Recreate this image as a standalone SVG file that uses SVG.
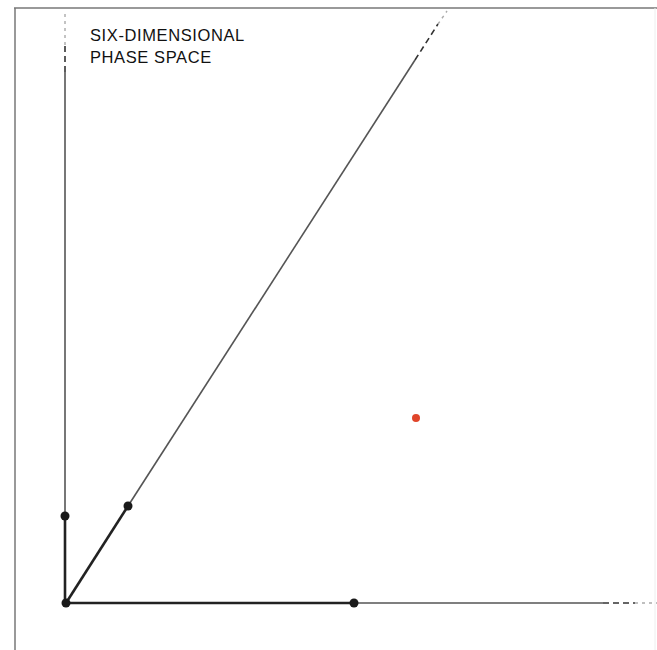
<svg xmlns="http://www.w3.org/2000/svg" width="657" height="650" viewBox="0 0 657 650">
<style>
.frame{stroke:#777;stroke-width:1.5;fill:none}
.thin{stroke:#555;stroke-width:1.6;fill:none}
.thick{stroke:#222;stroke-width:2.6;fill:none}
.dash{stroke:#333;stroke-width:1.6;fill:none;stroke-dasharray:6 4}
.faint{stroke:#aaa;stroke-width:1.4;fill:none;stroke-dasharray:3 4}
.dot{fill:#1a1a1a}
text{font-family:"Liberation Sans",Arial,sans-serif;font-size:16.5px;letter-spacing:0.6px;fill:#111}
</style>
<rect width="657" height="650" fill="#fff"/>
<g id="frame">
<line class="frame" x1="14" y1="8" x2="657" y2="8"/>
<line class="frame" x1="15" y1="8" x2="15" y2="650"/>
<line x1="655" y1="8" x2="655" y2="650" stroke="#eee" stroke-width="1"/>
</g>
<g id="label">
<text x="90" y="40.5">SIX-DIMENSIONAL</text>
<text x="90" y="62.5">PHASE SPACE</text>
</g>
<g id="connectors">
<line class="faint" x1="65" y1="14" x2="65" y2="46"/>
<line class="dash" x1="65" y1="46" x2="65" y2="72"/>
<line class="thin" x1="65" y1="72" x2="65" y2="516"/>
<line class="thick" x1="65" y1="516" x2="65" y2="603"/>
<line class="thick" x1="66" y1="603" x2="354" y2="603"/>
<line class="thin" x1="354" y1="603" x2="603" y2="603"/>
<line class="dash" x1="603" y1="603" x2="635" y2="603"/>
<line class="faint" x1="635" y1="603" x2="657" y2="603"/>
<line class="thick" x1="66" y1="603" x2="128" y2="506"/>
<line class="thin" x1="128" y1="506" x2="415" y2="60"/>
<line class="dash" x1="415" y1="60" x2="438" y2="24"/>
<line class="faint" x1="438" y1="24" x2="447" y2="11"/>
</g>
<g id="node-origin"><circle class="dot" cx="66" cy="603" r="4.5"/></g>
<g id="node-y"><circle class="dot" cx="65" cy="516" r="4.5"/></g>
<g id="node-x"><circle class="dot" cx="354" cy="603" r="4.5"/></g>
<g id="node-z"><circle class="dot" cx="128" cy="506" r="4.5"/></g>
<g id="node-point"><circle cx="416" cy="418" r="4" fill="#e0452a"/></g>
</svg>
